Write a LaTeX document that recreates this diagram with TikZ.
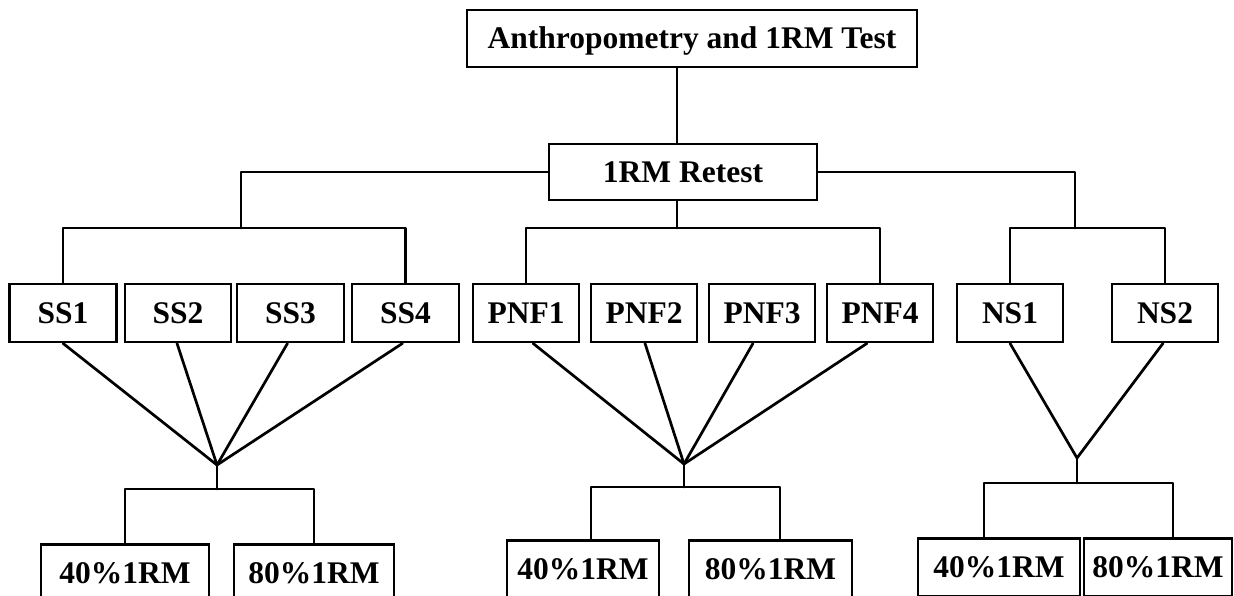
\documentclass[tikz,border=0pt]{standalone}
\usepackage{fontspec}
\setmainfont{Liberation Serif}
\usetikzlibrary{calc}
\begin{document}
\begin{tikzpicture}[x=1pt,y=-1pt,
  box/.style={draw,line width=2.7pt,inner sep=0pt,minimum height=58pt,
    font=\fontsize{31.5}{36}\selectfont\bfseries,text height=21pt,text depth=0pt},
  ln/.style={line width=2.7pt,line cap=round,line join=round}]
\useasboundingbox (0,0) rectangle (1234,596);
\clip (0,0) rectangle (1234,596);
% main boxes
\node[box,minimum width=450pt,minimum height=57pt] (top) at (692,38.5) {Anthropometry and 1RM Test};
\node[box,minimum width=268pt,minimum height=56pt] (retest) at (683,172) {1RM Retest};
% groups
\node[box,minimum width=107pt] (ss1) at (63,313) {SS1};
\node[box,minimum width=106pt] (ss2) at (178,313) {SS2};
\node[box,minimum width=107pt] (ss3) at (290.5,313) {SS3};
\node[box,minimum width=107pt] (ss4) at (405.5,313) {SS4};
\node[box,minimum width=106pt] (pnf1) at (526,313) {PNF1};
\node[box,minimum width=106pt] (pnf2) at (644,313) {PNF2};
\node[box,minimum width=106pt] (pnf3) at (762,313) {PNF3};
\node[box,minimum width=106pt] (pnf4) at (880,313) {PNF4};
\node[box,minimum width=106pt] (ns1) at (1010,313) {NS1};
\node[box,minimum width=106pt] (ns2) at (1165,313) {NS2};
% bottom boxes
\node[box,anchor=north,minimum width=168pt] (sA) at (125,543) {40\%1RM};
\node[box,anchor=north,minimum width=160pt] (sB) at (314,543) {80\%1RM};
\node[box,anchor=north,minimum width=152pt] (pA) at (583,539) {40\%1RM};
\node[box,anchor=north,minimum width=163pt] (pB) at (770.5,539) {80\%1RM};
\node[box,anchor=north,minimum width=162pt] (nA) at (999,537) {40\%1RM};
\node[box,anchor=north,minimum width=148pt] (nB) at (1158,537) {80\%1RM};
% junctions
\coordinate (jL) at (241,228);
\coordinate (jM) at (677,228);
\coordinate (jR) at (1075,228);
\coordinate (aS) at (217,465);
\coordinate (hS) at (217,489);
\coordinate (aP) at (684,464);
\coordinate (hP) at (684,487);
\coordinate (aN) at (1077,458);
\coordinate (hN) at (1077,483);
\coordinate (pl) at (591,487);
\coordinate (pr) at (780,487);
\coordinate (nl) at (984,483);
\coordinate (nr) at (1173,483);
% upper tree
\draw[ln] (jM |- top.south) -- (jM |- retest.north);
\draw[ln] (retest.west) -| (jL);
\draw[ln] (ss1.north) |- (jL) -| (ss4.north);
\draw[ln] (jM |- retest.south) -- (jM);
\draw[ln] (pnf1.north) |- (jM) -| (pnf4.north);
\draw[ln] (retest.east) -| (jR);
\draw[ln] (ns1.north) |- (jR) -| (ns2.north);
% fans
\foreach \n/\d in {ss1/0,ss2/-1,ss3/-3,ss4/-3}
  \draw[ln] ($(\n.south)+(\d,0)$) -- (aS);
\foreach \n/\d in {pnf1/7,pnf2/1,pnf3/-9,pnf4/-13}
  \draw[ln] ($(\n.south)+(\d,0)$) -- (aP);
\foreach \n/\d in {ns1/0,ns2/-2}
  \draw[ln] ($(\n.south)+(\d,0)$) -- (aN);
% lower trees
\draw[ln] (aS) -- (hS);
\draw[ln] (sA.north) |- (hS) -| (sB.north);
\draw[ln] (aP) -- (hP);
\draw[ln] (pl |- pA.north) -- (pl) -- (pr) -- (pr |- pB.north);
\draw[ln] (aN) -- (hN);
\draw[ln] (nl |- nA.north) -- (nl) -- (nr) -- (nr |- nB.north);
\end{tikzpicture}
\end{document}
